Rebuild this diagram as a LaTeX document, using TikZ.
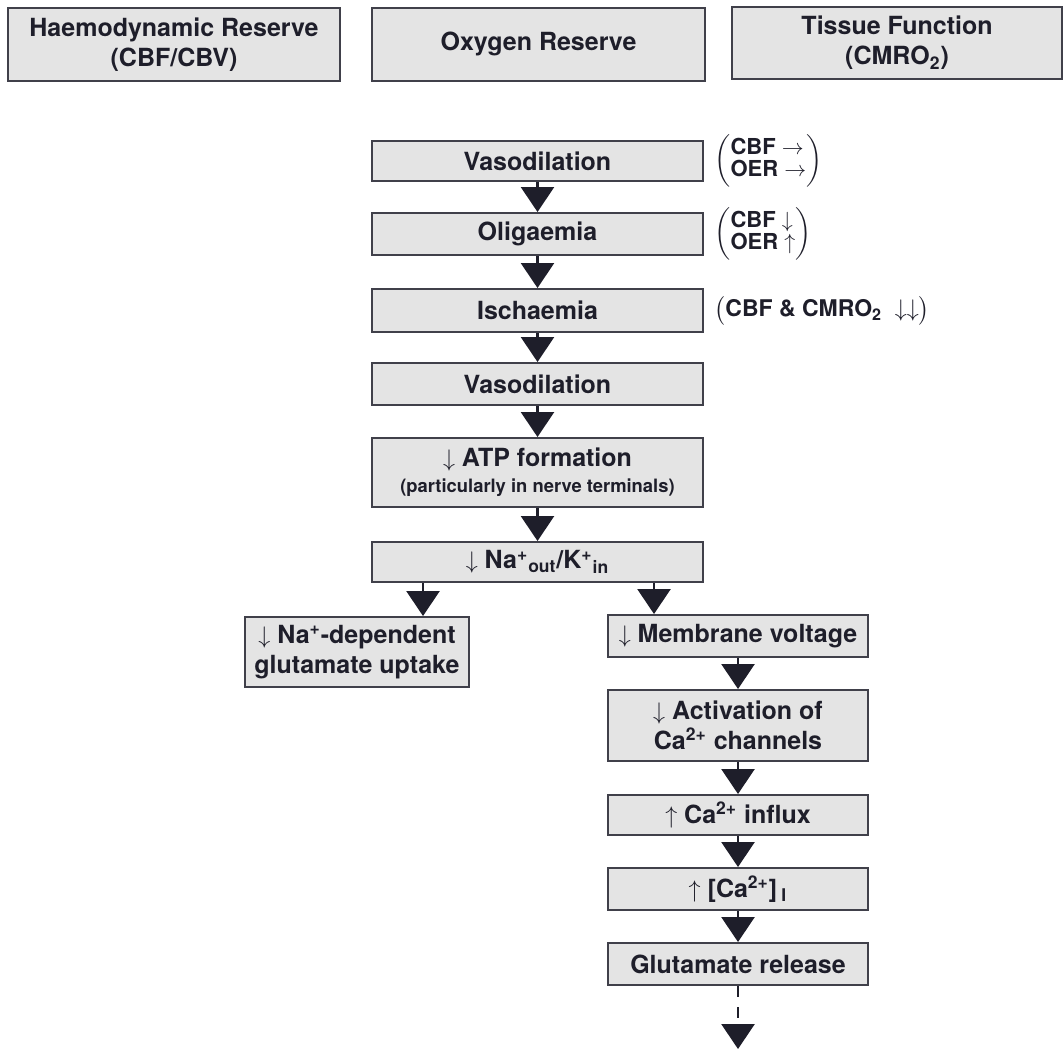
\documentclass[tikz,border=0pt]{standalone}
\usepackage{amsmath,fontspec}
\setmainfont{TeX Gyre Heros}
\definecolor{boxfill}{HTML}{E4E4E4}
\definecolor{inkcolor}{HTML}{1E1E2A}
\usetikzlibrary{arrows.meta,positioning}
\tikzset{
  bx/.style={draw=inkcolor!85,fill=boxfill,line width=1pt,align=center,inner sep=0pt,text=inkcolor,
    font=\fontsize{12.5}{15}\selectfont\bfseries},
  annot/.style={inner sep=0pt,text=inkcolor,font=\fontsize{11}{11}\selectfont\bfseries},
  arr/.style={-{Triangle[length=12.5pt,width=16.5pt]},line width=1.3pt,draw=inkcolor}
}
\begin{document}
\begin{tikzpicture}[x=.5pt,y=-.5pt]
\useasboundingbox(0,0)rectangle(1063,1051);
\node[bx,minimum width=166pt,minimum height=36.5pt](hhaem)at(174,44.5){Haemodynamic Reserve\\(CBF/CBV)};
\node[bx,minimum width=166.5pt,minimum height=36.5pt](hoxy)at(538.5,44){Oxygen Reserve};
\node[bx,minimum width=165pt,minimum height=36pt](htis)at(897,43){Tissue Function\\(CMRO\textsubscript{2})};
\node[bx,minimum width=165.5pt,minimum height=20pt](vasoA)at(537.5,161){Vasodilation};
\node[bx,minimum width=165.5pt,minimum height=21pt](olig)at(537.5,234){Oligaemia};
\node[bx,minimum width=165.5pt,minimum height=21.5pt](isch)at(537.5,310.5){Ischaemia};
\node[bx,minimum width=165.5pt,minimum height=21pt](vasoB)at(537.5,384){Vasodilation};
\node[bx,minimum width=165.5pt,minimum height=34.5pt](atp)at(537.5,472.5){$\downarrow$ ATP formation\\[-2pt]{\fontsize{9.2}{11}\selectfont(particularly in nerve terminals)}};
\node[bx,minimum width=165.5pt,minimum height=20pt](nakin)at(537.5,562){$\downarrow$ Na\textsuperscript{+}\textsubscript{out}/K\textsuperscript{+}\textsubscript{in}};
\node[bx,minimum width=112pt,minimum height=35pt](nadep)at(357,652){$\downarrow$ Na\textsuperscript{+}-dependent\\glutamate uptake};
\node[bx,minimum width=130pt,minimum height=21pt](memb)at(738,636){$\downarrow$ Membrane voltage};
\node[bx,minimum width=130pt,minimum height=35.5pt](activ)at(738,725.5){$\downarrow$ Activation of\\Ca\textsuperscript{2+} channels};
\node[bx,minimum width=130pt,minimum height=20pt](influx)at(738,815){$\uparrow$ Ca\textsuperscript{2+} influx};
\node[bx,minimum width=130pt,minimum height=21pt](cai)at(738,889){$\uparrow$ [Ca\textsuperscript{2+}]\,\textsubscript{I}};
\node[bx,minimum width=130pt,minimum height=21pt](glurel)at(738,964){Glutamate release};
\coordinate(gluend)at(738,1049);
\node[annot,right=5pt of vasoA]{$\left(\begin{tabular}{@{}l@{}}CBF $\rightarrow$\\[-.5pt]OER $\rightarrow$\end{tabular}\right)$};
\node[annot,right=5pt of olig]{$\left(\begin{tabular}{@{}l@{}}CBF $\downarrow$\\[-.5pt]OER $\uparrow$\end{tabular}\right)$};
\node[annot,right=5pt of isch,font=\fontsize{11.5}{12}\selectfont\bfseries]{$\bigl($CBF \& CMRO\textsubscript{2}\ \ $\downarrow\downarrow\bigr)$};
\draw[arr](vasoA)--(olig);\draw[arr](olig)--(isch);\draw[arr](isch)--(vasoB);
\draw[arr](vasoB)--(atp);\draw[arr](atp)--(nakin);
\draw[arr]([xshift=-57.25pt]nakin.south)--([xshift=-57.25pt]nakin.south|-nadep.north);
\draw[arr]([xshift=58.25pt]nakin.south)--([xshift=58.25pt]nakin.south|-memb.north);
\draw[arr](memb)--(activ);\draw[arr](activ)--(influx);\draw[arr](influx)--(cai);\draw[arr](cai)--(glurel);
\draw[arr,dash pattern=on 5.5pt off 5pt](glurel)--(gluend);
\end{tikzpicture}
\end{document}
